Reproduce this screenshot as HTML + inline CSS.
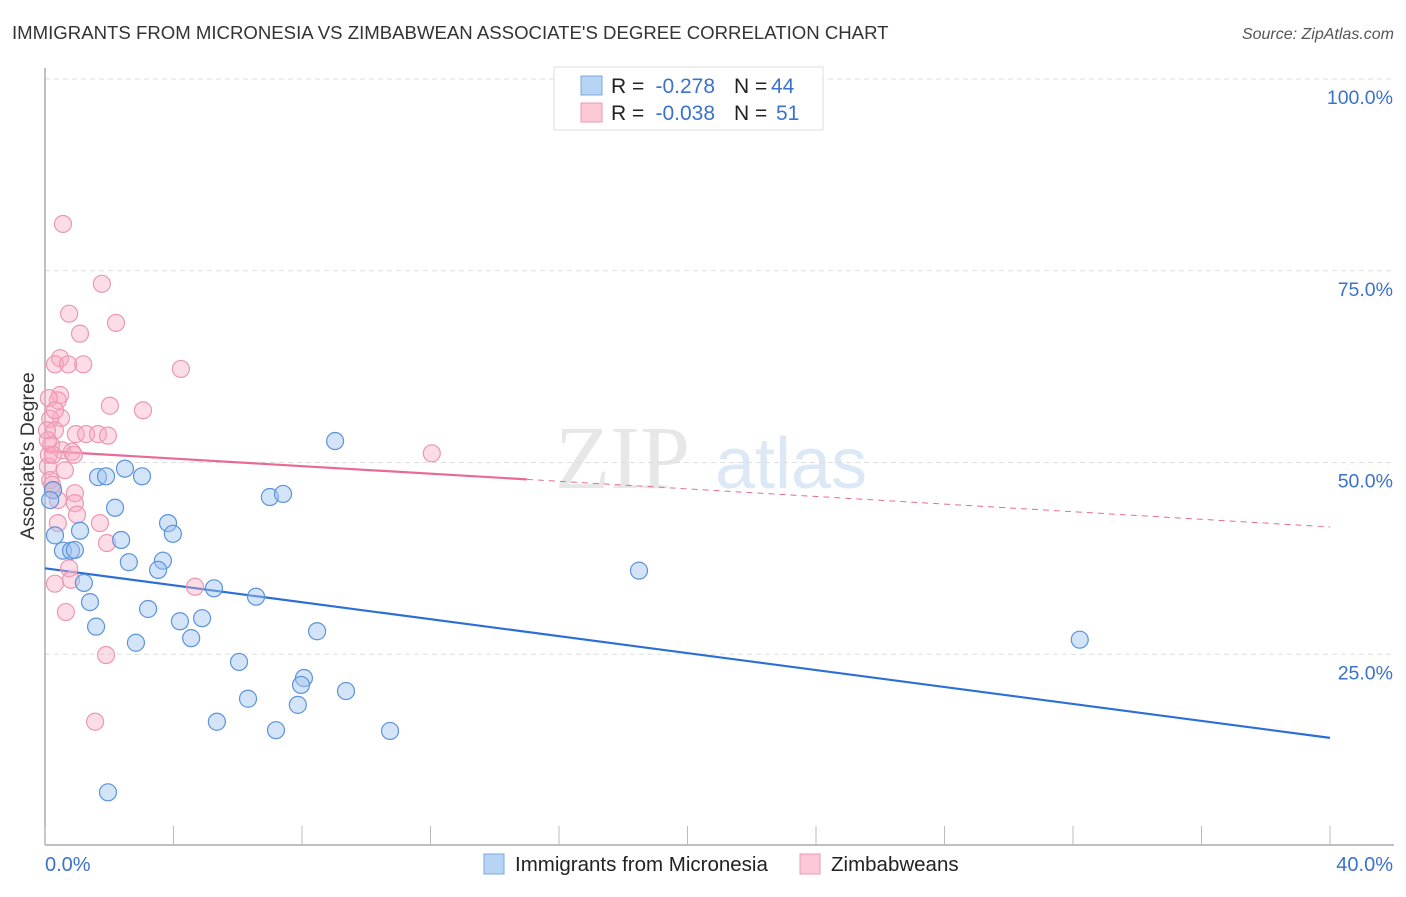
<!DOCTYPE html>
<html><head><meta charset="utf-8"><style>
body{margin:0;background:#fff;font-family:"Liberation Sans",sans-serif;}
</style></head><body>
<svg id="chart" width="1406" height="892" xmlns="http://www.w3.org/2000/svg" font-family="Liberation Sans, sans-serif">
<text x="12" y="39" font-size="18.6" fill="#333">IMMIGRANTS FROM MICRONESIA VS ZIMBABWEAN ASSOCIATE'S DEGREE CORRELATION CHART</text>
<text x="1394" y="39" font-size="16" font-style="italic" fill="#555" text-anchor="end">Source: ZipAtlas.com</text>
<text transform="translate(34,456) rotate(-90)" font-size="19.5" fill="#333" text-anchor="middle">Associate's Degree</text>
<g opacity="0.35">
<text x="555" y="488" font-size="90" font-family="Liberation Serif, serif" fill="#bbb">ZIP</text>
<text x="715" y="488" font-size="72" fill="#9cc0e6">atlas</text>
</g>
<g id="grid"></g><g id="axes"></g><g id="lines"></g><g id="pts"></g>
<g>
<rect x="554" y="67" width="269" height="63" fill="#fff" stroke="#ddd"/>
<rect x="581" y="76" width="21" height="19" fill="#b8d4f5" stroke="#7aa8e0"/>
<rect x="581" y="103" width="21" height="19" fill="#fcc9d7" stroke="#eb98b0"/>
<g font-size="21">
<text x="611" y="93" fill="#222">R =</text>
<text x="715" y="93" fill="#3a72cc" text-anchor="end">-0.278</text>
<text x="734" y="93" fill="#222">N =</text>
<text x="771" y="93" fill="#3a72cc">44</text>
<text x="611" y="120" fill="#222">R =</text>
<text x="715" y="120" fill="#3a72cc" text-anchor="end">-0.038</text>
<text x="734" y="120" fill="#222">N =</text>
<text x="776" y="120" fill="#3a72cc">51</text>
</g>
</g>
<g>
<rect x="484" y="854" width="20" height="20" fill="#b8d4f5" stroke="#7aa8e0"/>
<text x="515" y="871" font-size="20.5" fill="#222">Immigrants from Micronesia</text>
<rect x="800" y="854" width="20" height="20" fill="#fcc9d7" stroke="#eb98b0"/>
<text x="831" y="871" font-size="20.5" fill="#222">Zimbabweans</text>
</g>
</svg>
<script>
const xTicks=[0,4,8,12,16,20,24,28,32,36,40];
const yTicks=[25,50,75,100];
const yTickLabels=["25.0%","50.0%","75.0%","100.0%"];
const blueX=[9.03,2.49,1.65,1.9,3.02,0.25,0.16,7.0,7.41,2.18,1.09,3.83,3.98,0.31,2.37,0.56,0.81,0.93,3.67,2.61,3.52,1.21,5.26,18.49,1.4,6.57,3.21,4.2,4.89,1.59,8.47,2.83,4.55,32.21,6.04,8.06,7.97,9.37,6.32,7.87,5.35,7.19,10.74,1.96];
const blueY=[52.8,49.2,48.1,48.2,48.2,46.4,45.1,45.5,45.9,44.1,41.1,42.1,40.7,40.5,39.9,38.5,38.5,38.6,37.2,37.0,36.0,34.3,33.6,35.9,31.8,32.5,30.9,29.3,29.7,28.6,28.0,26.5,27.1,26.9,24.0,21.9,21.0,20.2,19.2,18.4,16.2,15.1,15.0,7.0];
const pinkX=[0.56,1.77,0.75,2.21,1.09,0.47,0.31,0.72,1.19,4.23,0.47,0.40,0.12,2.02,3.05,0.50,0.16,0.31,0.96,1.28,1.65,1.96,0.19,0.53,0.84,0.90,12.04,0.09,0.16,0.25,0.93,0.93,0.996,0.40,1.71,1.93,0.75,0.81,0.31,4.67,0.65,1.90,1.56,0.12,0.22,0.31,0.09,0.40,0.62,0.25,0.06];
const pinkY=[81.1,73.3,69.4,68.2,66.8,63.6,62.8,62.8,62.8,62.2,58.8,58.1,58.4,57.4,56.8,55.8,55.7,54.2,53.7,53.7,53.7,53.5,52.3,51.6,51.4,51.0,51.2,49.5,47.7,46.4,46.0,44.7,43.2,42.1,42.1,39.5,36.2,34.7,34.2,33.8,30.5,24.9,16.2,51.0,47.1,56.8,52.9,45.1,49.0,51.0,54.2];
const blueTrend=[36.2,14.1];
const pinkTrend=[51.5,47.8,41.6];
const pinkSolidEnd=15.0;
const X=v=>45+v/40*1285, Y=v=>846-v/100*767;
const NS="http://www.w3.org/2000/svg";
function mk(p,t,a){const e=document.createElementNS(NS,t);for(const k in a)e.setAttribute(k,a[k]);document.getElementById(p).appendChild(e);return e;}
yTicks.forEach((t,i)=>{
 const l=mk('grid','line',{x1:45,x2:1394,y1:Y(t),y2:Y(t),stroke:'#ddd','stroke-dasharray':'5,4'});
 
 
 const tx=mk('axes','text',{x:1393,y:Y(t)+25,'font-size':19.5,fill:'#3a72cc','text-anchor':'end'});
 tx.textContent=yTickLabels[i];
 
 
});
const ax=mk('axes','line',{x1:45,x2:1394,y1:845,y2:845,stroke:'#aaa','stroke-width':1.5});


const ay=mk('axes','line',{x1:45,x2:45,y1:68,y2:845,stroke:'#aaa','stroke-width':1.5});


xTicks.forEach(t=>{
 const l=mk('axes','line',{x1:X(t),x2:X(t),y1:826,y2:845,stroke:'#bbb'});
 
 
});
const x0=mk('axes','text',{x:45,y:871,'font-size':20,fill:'#3a72cc'});x0.textContent='0.0%';


const x1=mk('axes','text',{x:1393,y:871,'font-size':20,fill:'#3a72cc','text-anchor':'end'});x1.textContent='40.0%';


const bl=mk('lines','line',{x1:X(0),y1:Y(blueTrend[0]),x2:X(40),y2:Y(blueTrend[1]),stroke:'#2b6fd6','stroke-width':2.2});


const pl=mk('lines','line',{x1:X(0),y1:Y(pinkTrend[0]),x2:X(pinkSolidEnd),y2:Y(pinkTrend[1]),stroke:'#e86b94','stroke-width':2.2});


const pd=mk('lines','line',{x1:X(pinkSolidEnd),y1:Y(pinkTrend[1]),x2:X(40),y2:Y(pinkTrend[2]),stroke:'#e86b94','stroke-width':1,'stroke-dasharray':'6,5'});


pinkX.forEach((v,i)=>{
 const c=mk('pts','circle',{cx:X(v),cy:Y(pinkY[i]),r:8.5,fill:'rgba(248,170,195,0.4)',stroke:'#eb98b0','stroke-width':1.2});
 
 
});
blueX.forEach((v,i)=>{
 const c=mk('pts','circle',{cx:X(v),cy:Y(blueY[i]),r:8.5,fill:'rgba(160,196,240,0.45)',stroke:'#5b93dc','stroke-width':1.2});
 
 
});
</script>
</body></html>
